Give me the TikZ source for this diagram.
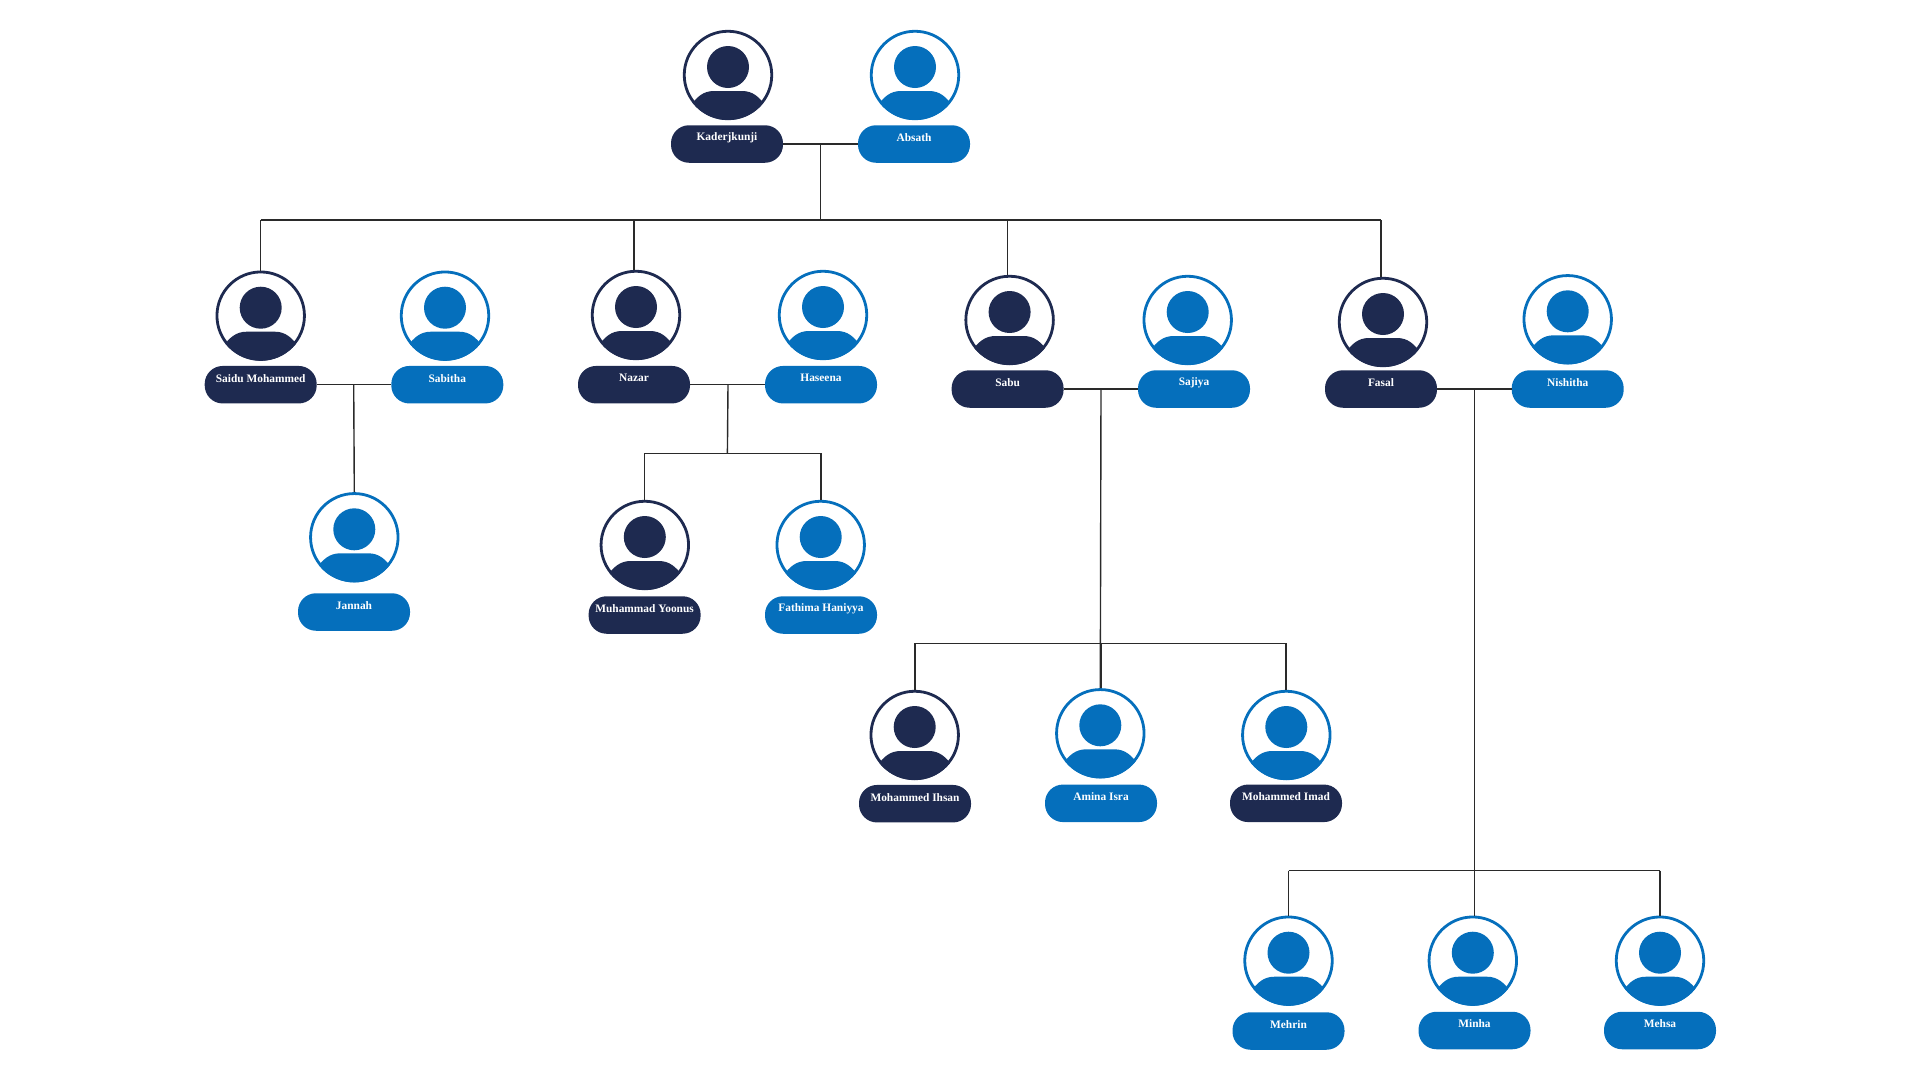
\documentclass[tikz,border=0pt]{standalone}
\usepackage{fontspec}
\setmainfont{Liberation Serif}
\definecolor{navy}{HTML}{1E2A50}
\definecolor{azure}{HTML}{056FBC}
\definecolor{wirecol}{HTML}{2A2A2A}
\tikzset{
    face/.style={circle,draw=#1,fill=white,line width=2.8pt,minimum size=87.5pt,inner sep=0pt},
    tag/.style={rectangle,fill=#1,rounded corners=18pt,minimum width=112pt,minimum height=37.5pt,inner sep=0pt,outer sep=0pt},
    tagtext/.style={text=white,font=\fontsize{11.4}{14}\selectfont\bfseries,inner sep=0pt},
    wire/.style={draw=wirecol,line width=1.4pt},
    pics/bust/.style={code={
        \fill[#1] (0,-8) circle [radius=21pt];
        \begin{scope}
            \clip (0,0) circle [radius=45pt];
            \fill[#1] (-38,31) .. controls (-31,22) and (-25,16) .. (-14,16) -- (14,16)
                .. controls (25,16) and (31,22) .. (38,31) -- (38,50) -- (-38,50) -- cycle;
        \end{scope}
    }}
}
\begin{document}
\begin{tikzpicture}[x=1pt,y=-1pt]
    \useasboundingbox (0,0) rectangle (1920,1080);

    \foreach \nm/\col/\tcol/\fx/\fy/\lx/\ly/\txt in {
        kader/navy/navy/728/75/727/144/Kaderjkunji,
        absath/azure/azure/915/75/914/144/Absath,
        saidu/navy/navy/260.7/315.7/260.7/384.7/Saidu Mohammed,
        sabitha/azure/azure/445/315.7/447.3/384.7/Sabitha,
        nazar/navy/navy/636/315/634/384.7/Nazar,
        haseena/azure/azure/823/315/821/384.7/Haseena,
        sabu/navy/navy/1009.6/320/1007.6/389/Sabu,
        sajiya/azure/azure/1187.7/320/1194/389/Sajiya,
        fasal/navy/navy/1383/322/1381/389/Fasal,
        nishitha/azure/azure/1567.7/319.3/1567.7/389/Nishitha,
        jannah/azure/azure/354.3/537.3/354/612/Jannah,
        yoonus/navy/navy/644.8/545/644.6/615/Muhammad Yoonus,
        fathima/azure/azure/820.7/545/821/615/Fathima Haniyya,
        ihsan/navy/navy/914.7/735/915/803.7/Mohammed Ihsan,
        amina/azure/azure/1100.3/733.3/1101/803.3/Amina Isra,
        imad/azure/navy/1286.3/735/1286/803.3/Mohammed Imad,
        mehrin/azure/azure/1288.5/960.7/1288.5/1031/Mehrin,
        minha/azure/azure/1472.8/960.7/1474.5/1030.5/Minha,
        mehsa/azure/azure/1660/960.7/1660/1030.5/Mehsa}
    {
        \node[face=\col] (f\nm) at (\fx,\fy) {};
        \pic at (f\nm) {bust=\col};
        \node[tag=\tcol] (t\nm) at (\lx,\ly) {};
        \node[tagtext] (n\nm) at ([yshift=6.5pt]t\nm.center) {\txt};
    }

    \coordinate (jroot) at (820.7,144);
    \coordinate (jsaidu) at (353.7,384.7);
    \coordinate (jnazar) at (728,384.7);
    \coordinate (jsabu) at (1101,389);
    \coordinate (jfasal) at (1474.5,389);
    \coordinate (railroot) at (820.7,220);
    \coordinate (railnazar) at (727.4,453.3);
    \coordinate (railsabu) at (1100.3,643.3);
    \coordinate (railfasal) at (1474.5,870.7);

    \path[wire] (tkader.east) -- (tabsath.west);
    \path[wire] (tsaidu.east) -- (tsabitha.west);
    \path[wire] (tnazar.east) -- (thaseena.west);
    \path[wire] (tsabu.east) -- (tsajiya.west);
    \path[wire] (tfasal.east) -- (tnishitha.west);

    \path[wire] (jroot) -- (railroot);
    \path[wire] (jsaidu) -- (fjannah.north);
    \path[wire] (jnazar) -- (railnazar);
    \path[wire] (jsabu) -- (famina.north);
    \path[wire] (jfasal) -- (fminha.north -| jfasal);

    \path[wire] (railroot -| tsaidu) -- (railroot -| tfasal);
    \path[wire] (railnazar -| tyoonus) -- (railnazar -| tfathima);
    \path[wire] (railsabu -| tihsan) -- (railsabu -| timad);
    \path[wire] (railfasal -| tmehrin) -- (railfasal -| tmehsa);

    \foreach \nm/\rail in {saidu/railroot,nazar/railroot,sabu/railroot,fasal/railroot,
        yoonus/railnazar,fathima/railnazar,ihsan/railsabu,amina/railsabu,imad/railsabu,
        mehrin/railfasal,minha/railfasal,mehsa/railfasal}
        \path[wire] (\rail -| t\nm) -- (t\nm |- f\nm.north);

\end{tikzpicture}
\end{document}
